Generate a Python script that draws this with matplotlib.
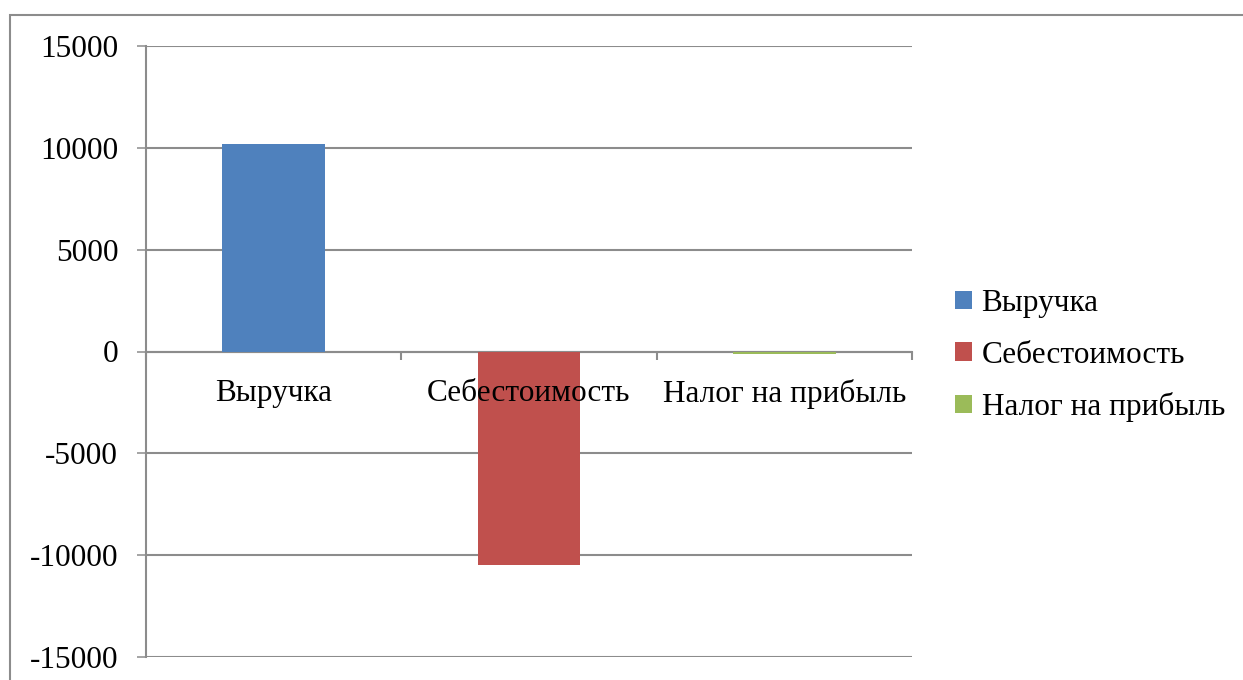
import matplotlib
matplotlib.use("Agg")
import matplotlib.pyplot as plt
from matplotlib.patches import Rectangle, Patch
from matplotlib.transforms import blended_transform_factory, offset_copy
import numpy as np

categories = ["Выручка", "Себестоимость", "Налог на прибыль"]
values = [10200, -10470, -120]
colors = ["#4F81BD", "#C0504D", "#9BBB59"]
yticks = [-15000, -10000, -5000, 0, 5000, 10000, 15000]

plt.rcParams['font.family'] = ['Liberation Serif', 'DejaVu Serif']
FS = 22.5
GRID = "#8C8C8C"

fig = plt.figure(figsize=(12.43, 6.80), dpi=100)
ax = fig.add_axes([146/1243, 1-657/680, (912-146)/1243, (657-46)/680])

x = np.arange(len(categories))
ax.bar(x, values, width=0.403, color=colors, zorder=3)

ax.set_xlim(-0.5, len(categories) - 0.5)
ax.set_ylim(-15000, 15000)
ax.set_yticks(yticks)
ax.set_yticklabels([str(v) for v in yticks], fontsize=FS)
ax.yaxis.grid(True, color=GRID, linewidth=1.5, zorder=0)
ax.tick_params(axis='y', length=6.5, width=1.1, color=GRID, pad=13.5)

for s in ['top', 'right']:
    ax.spines[s].set_visible(False)
ax.spines['left'].set_color(GRID)
ax.spines['left'].set_linewidth(1.5)
ax.spines['bottom'].set_position(('data', 0))
ax.spines['bottom'].set_color(GRID)
ax.spines['bottom'].set_linewidth(1.5)
ax.spines['bottom'].set_zorder(2)

ax.set_xticks(np.arange(-0.5, len(categories), 1.0))
ax.set_xticklabels([])
ax.tick_params(axis='x', which='major', length=5.5, width=1.5, color=GRID, direction='out')

# category labels drawn on top of bars
trans = offset_copy(blended_transform_factory(ax.transData, ax.transData),
                    fig=fig, x=0, y=-20, units='points')
for xi, lab in zip(x, categories):
    ax.text(xi, 0, lab, transform=trans, ha='center', va='top',
            fontsize=FS, zorder=6)

# outer chart frame
frame = Rectangle((10.5/1243, -0.1), 1.2, 1.1 - 15.5/680,
                  transform=fig.transFigure, fill=False,
                  edgecolor="#8C8C8C", linewidth=1.5, clip_on=False)
fig.patches.append(frame)

handles = [Patch(facecolor=c, edgecolor='none') for c in colors]
fig.legend(handles, categories, loc='upper left',
           bbox_to_anchor=(955/1243, 1-289/680), frameon=False,
           fontsize=FS, handlelength=0.55, handleheight=0.55,
           handletextpad=0.3, labelspacing=0.72, borderaxespad=0,
           borderpad=0)

fig.savefig("out.png", dpi=100)
